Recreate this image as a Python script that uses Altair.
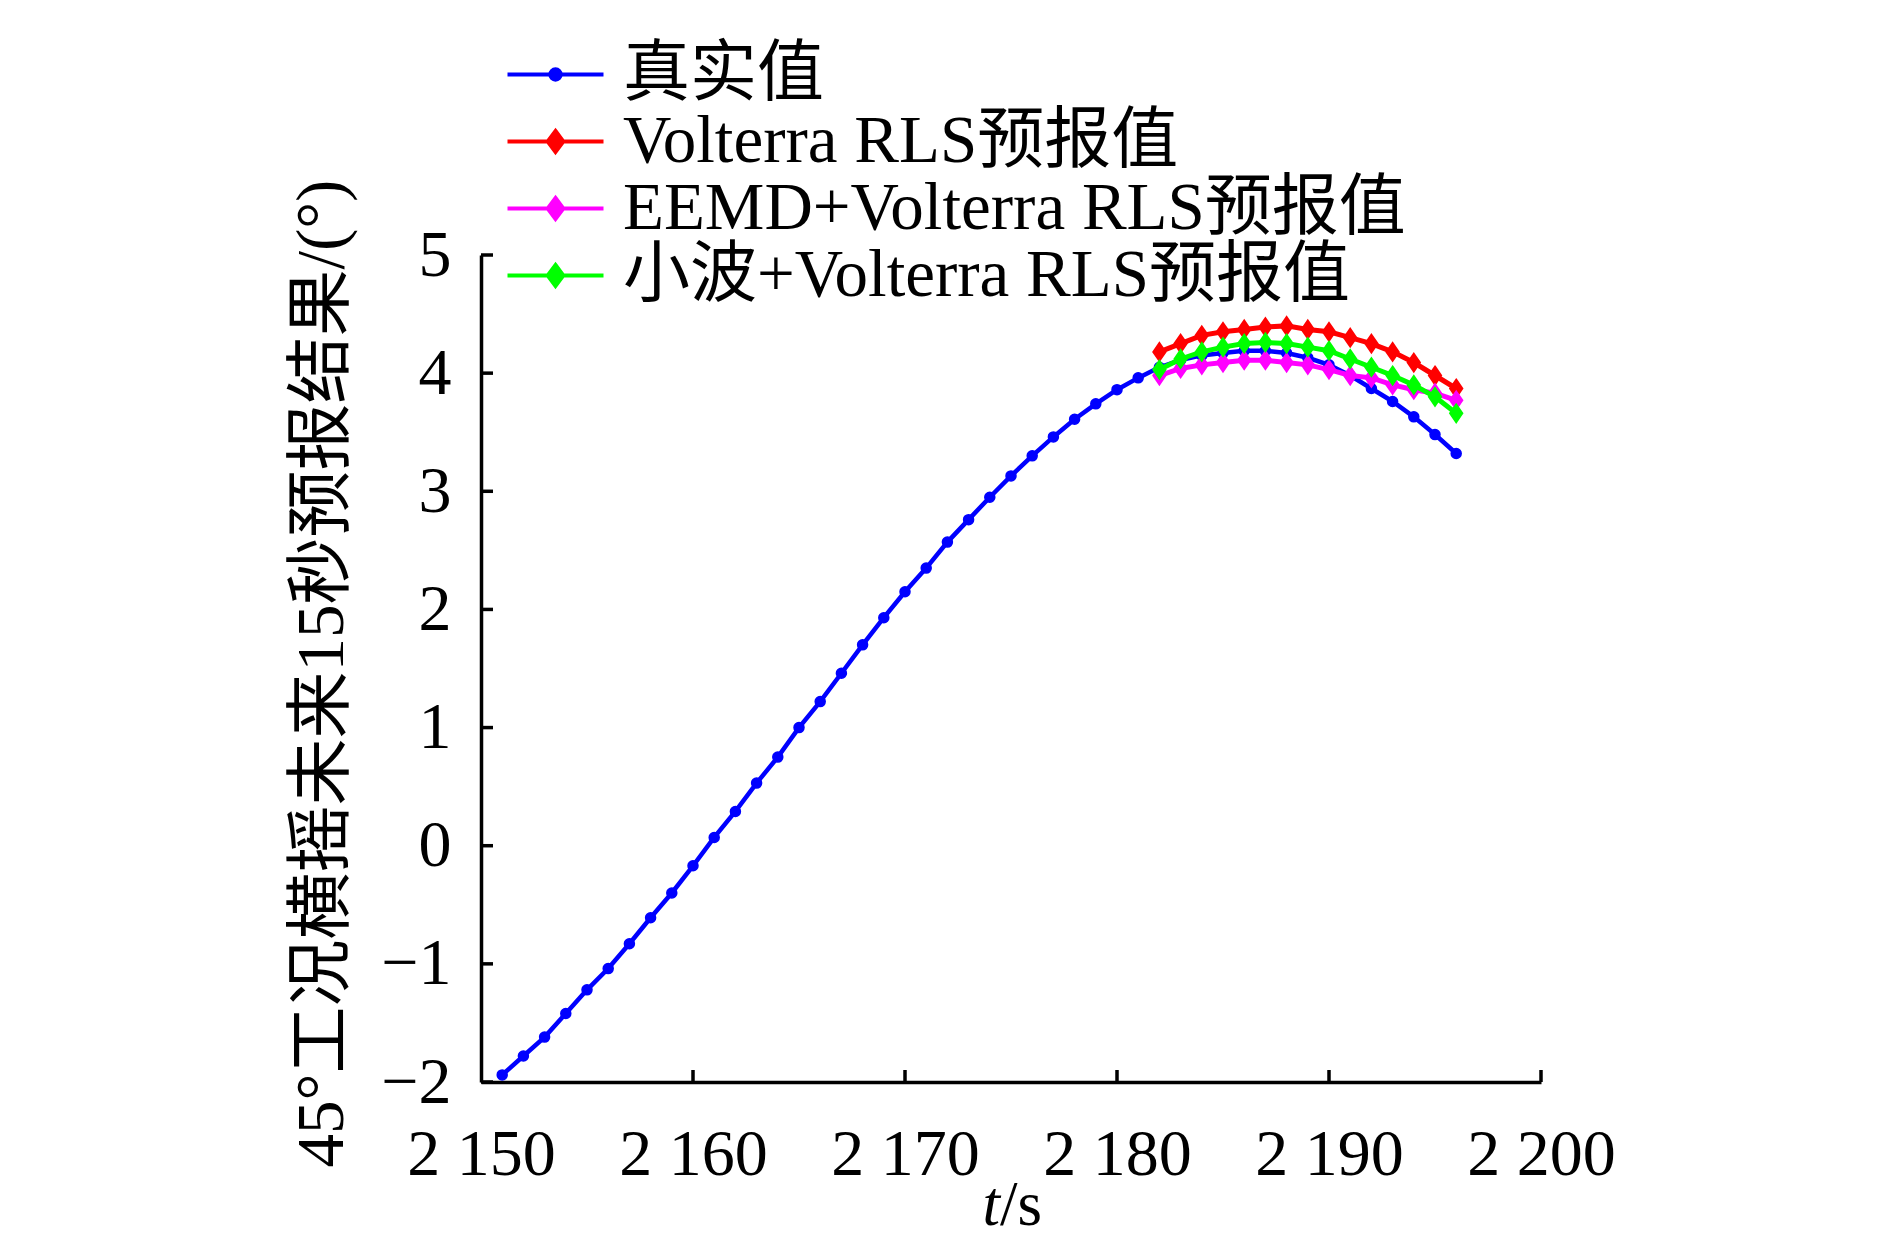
import altair as alt
import pandas as pd

# ---------------- data ----------------
t_true = list(range(2151, 2197))
true_vals = [-1.94, -1.78, -1.62, -1.42, -1.22, -1.04, -0.83, -0.61, -0.40, -0.17,
             0.07, 0.29, 0.53, 0.75, 1.00, 1.22, 1.46, 1.70, 1.93, 2.15,
             2.35, 2.57, 2.76, 2.95, 3.13, 3.30, 3.46, 3.61, 3.74, 3.86,
             3.96, 4.05, 4.11, 4.15, 4.17, 4.19, 4.19, 4.17, 4.13, 4.07,
             3.98, 3.87, 3.76, 3.63, 3.48, 3.32]

t_pred = list(range(2182, 2197))
volterra_vals = [4.18, 4.25, 4.32, 4.35, 4.37, 4.39, 4.40, 4.37, 4.35, 4.30,
                 4.25, 4.18, 4.09, 3.98, 3.87]
eemd_vals = [3.98, 4.04, 4.07, 4.09, 4.11, 4.11, 4.09, 4.07, 4.03, 3.98,
             3.96, 3.90, 3.86, 3.83, 3.77]
wavelet_vals = [4.03, 4.12, 4.18, 4.22, 4.25, 4.26, 4.25, 4.22, 4.19, 4.12,
                4.05, 3.98, 3.90, 3.80, 3.66]

series_names = ["真实值", "Volterra RLS预报值", "EEMD+Volterra RLS预报值", "小波+Volterra RLS预报值"]
series_colors = ["#0000ff", "#ff0000", "#ff00ff", "#00ff00"]

x_ticks = [2150, 2160, 2170, 2180, 2190, 2200]
y_ticks = [-2, -1, 0, 1, 2, 3, 4, 5]
x_title_pos = [2175]

y_title = "45°工况横摇未来15秒预报结果/(°)"

FONT = "Liberation Serif, Noto Sans CJK SC"
FS = 66
TFS = 67
LFS = 67

# ---------------- styles ----------------
DIAMOND = "M0,-1.45L1,0L0,1.45L-1,0Z"
LEG_LINE = "M-4.8,0H4.8"
LEG_CIRCLE = LEG_LINE + "M-0.52,0A0.52,0.52,0,1,0,0.52,0A0.52,0.52,0,1,0,-0.52,0Z"
LEG_DIAMOND = LEG_LINE + "M0,-1.05L0.78,0L0,1.05L-0.78,0Z"
legend_shapes = [LEG_CIRCLE, LEG_DIAMOND, LEG_DIAMOND, LEG_DIAMOND]

xs = alt.Scale(domain=[2150, 2200], nice=False, zero=False)
ys = alt.Scale(domain=[-2, 5], nice=False, zero=False)

x_axis = alt.Axis(
    values=x_ticks, title=None, grid=False, ticks=False, tickSize=0,
    domainWidth=3.5, domainColor="black",
    labelFont=FONT, labelFontSize=FS, labelColor="black",
    labelPadding=92, labelBaseline="alphabetic", labelFlush=False, labelOverlap=False,
    labelExpr="substring(toString(datum.value),0,1) + ' ' + substring(toString(datum.value),1)",
)
y_axis = alt.Axis(
    values=y_ticks, title=y_title, grid=False, ticks=False, tickSize=0,
    domainWidth=3.5, domainColor="black",
    labelFont=FONT, labelFontSize=FS, labelColor="black", labelPadding=30,
    labelFlush=False, labelOverlap=False,
    titleFont=FONT, titleFontSize=TFS, titleFontWeight="normal", titleColor="black",
    titleX=-159, titleY=418, titleAlign="center", titleBaseline="middle", titleAngle=270,
)

X = lambda f: alt.X(f, scale=xs, axis=x_axis)
Y = lambda f: alt.Y(f, scale=ys, axis=y_axis)

# ---------------- layers ----------------
layers = []
all_series = [
    (t_true, true_vals),
    (t_pred, volterra_vals),
    (t_pred, eemd_vals),
    (t_pred, wavelet_vals),
]
for i, (ts, vs) in enumerate(all_series):
    base = alt.Chart(pd.DataFrame({"t": ts, "v": vs}))
    line = base.mark_line(color=series_colors[i], strokeWidth=4.5 if i == 0 else 5).encode(
        x=X("t:Q"), y=Y("v:Q"))
    if i == 0:
        pts = base.mark_point(filled=True, shape="circle", size=100, fill=series_colors[i],
                              stroke=series_colors[i], strokeWidth=1.5, opacity=1)
    else:
        pts = base.mark_point(filled=True, shape=DIAMOND, size=135, fill=series_colors[i],
                              stroke=series_colors[i], strokeWidth=2.5, opacity=1)
    layers += [line, pts.encode(x=X("t:Q"), y=Y("v:Q"))]

# inward axis ticks
ytick_layer = alt.Chart(pd.DataFrame({"v": y_ticks, "t0": [2150] * len(y_ticks)})).mark_rule(
    color="black", strokeWidth=3.5, x2Offset=12
).encode(x=X("t0:Q"), x2="t0:Q", y=Y("v:Q"))
xtick_layer = alt.Chart(pd.DataFrame({"t": x_ticks[1:], "v0": [-2] * (len(x_ticks) - 1)})).mark_rule(
    color="black", strokeWidth=3.5, y2Offset=-12
).encode(x=X("t:Q"), y=Y("v0:Q"), y2="v0:Q")
layers += [ytick_layer, xtick_layer]

# x axis title "t/s" (t italic)
tdf = pd.DataFrame({"t": x_title_pos})
t_txt = alt.Chart(tdf).mark_text(
    text="t", font="Liberation Serif", fontStyle="italic", fontSize=63,
    align="right", baseline="alphabetic", dx=-11, color="black"
).encode(x=X("t:Q"), y=alt.value(970))
s_txt = alt.Chart(tdf).mark_text(
    text="/s", font="Liberation Serif", fontSize=63,
    align="left", baseline="alphabetic", dx=-11, color="black"
).encode(x=X("t:Q"), y=alt.value(970))
layers += [t_txt, s_txt]

# legend (line + marker symbols), from an empty layer with explicit domains
leg = alt.Legend(
    orient="none", legendX=41, legendY=-214, title=None, padding=0,
    labelFont=FONT, labelFontSize=LFS, labelColor="black", labelOffset=34,
    labelLimit=2000, rowPadding=-6, symbolSize=400, symbolStrokeWidth=4,
)
leg_df = pd.DataFrame({"s": series_names, "t": [2150] * 4, "v": [0] * 4})
legend_layer = alt.Chart(leg_df).transform_filter("false").mark_point(
    filled=True, opacity=1, strokeWidth=4
).encode(
    x=X("t:Q"), y=Y("v:Q"),
    fill=alt.Fill("s:N", scale=alt.Scale(domain=series_names, range=series_colors), legend=leg),
    stroke=alt.Stroke("s:N", scale=alt.Scale(domain=series_names, range=series_colors), legend=leg),
    shape=alt.Shape("s:N", scale=alt.Scale(domain=series_names, range=legend_shapes), legend=leg),
)
layers.append(legend_layer)

chart = alt.layer(*layers).properties(
    width=1060, height=827,
    autosize=alt.AutoSizeParams(type="none"),
    padding={"left": 473, "top": 247, "right": 330, "bottom": 160},
    background="white",
).configure_view(stroke=None)

chart.save("out.html", embed_options={"renderer": "svg", "actions": False})
